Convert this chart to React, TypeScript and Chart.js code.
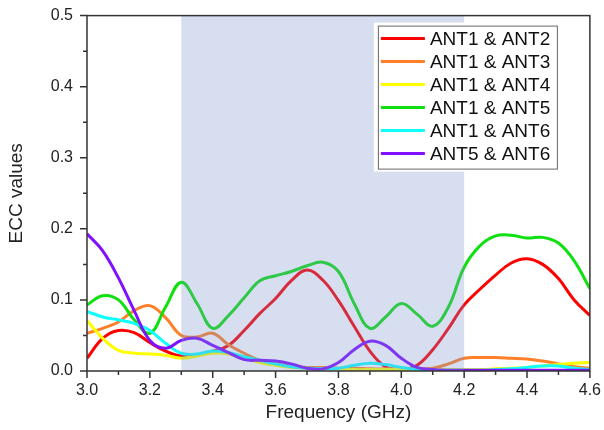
import React, { useEffect, useRef } from "react";
import { Chart, registerables } from "chart.js";

Chart.register(...registerables);

const freq = [3.0, 3.05, 3.1, 3.15, 3.2, 3.25, 3.3, 3.35, 3.4, 3.45, 3.5, 3.55, 3.6, 3.65, 3.7, 3.75, 3.8, 3.85, 3.9, 3.95, 4.0, 4.05, 4.1, 4.15, 4.2, 4.25, 4.3, 4.35, 4.4, 4.45, 4.5, 4.55, 4.6];

const ant12 = [0.018, 0.046, 0.057, 0.054, 0.040, 0.028, 0.021, 0.023, 0.028, 0.036, 0.057, 0.081, 0.102, 0.127, 0.142, 0.128, 0.099, 0.063, 0.028, 0.006, 0.002, 0.008, 0.030, 0.060, 0.093, 0.115, 0.135, 0.152, 0.158, 0.150, 0.130, 0.100, 0.078];
const ant13 = [0.053, 0.060, 0.069, 0.085, 0.092, 0.075, 0.050, 0.048, 0.053, 0.037, 0.025, 0.015, 0.010, 0.007, 0.005, 0.005, 0.004, 0.004, 0.003, 0.003, 0.003, 0.003, 0.004, 0.010, 0.018, 0.019, 0.019, 0.018, 0.017, 0.014, 0.010, 0.006, 0.004];
const ant14 = [0.071, 0.046, 0.029, 0.025, 0.024, 0.022, 0.018, 0.021, 0.025, 0.024, 0.018, 0.012, 0.008, 0.005, 0.004, 0.003, 0.003, 0.002, 0.002, 0.002, 0.002, 0.002, 0.002, 0.002, 0.002, 0.002, 0.003, 0.004, 0.005, 0.007, 0.009, 0.011, 0.012];
const ant15 = [0.093, 0.106, 0.100, 0.072, 0.053, 0.090, 0.125, 0.095, 0.060, 0.078, 0.103, 0.127, 0.134, 0.140, 0.148, 0.153, 0.140, 0.095, 0.060, 0.076, 0.095, 0.080, 0.063, 0.090, 0.146, 0.176, 0.190, 0.191, 0.187, 0.188, 0.180, 0.155, 0.116];
const ant16 = [0.084, 0.076, 0.072, 0.067, 0.057, 0.039, 0.025, 0.024, 0.028, 0.026, 0.020, 0.015, 0.010, 0.006, 0.004, 0.003, 0.004, 0.008, 0.011, 0.009, 0.005, 0.002, 0.001, 0.001, 0.001, 0.001, 0.002, 0.003, 0.005, 0.007, 0.007, 0.004, 0.002];
const ant56 = [0.193, 0.169, 0.131, 0.085, 0.043, 0.032, 0.043, 0.046, 0.036, 0.026, 0.016, 0.015, 0.014, 0.010, 0.004, 0.003, 0.012, 0.030, 0.042, 0.036, 0.018, 0.005, 0.002, 0.001, 0.001, 0.001, 0.001, 0.001, 0.001, 0.001, 0.001, 0.001, 0.001];

const seriesLabels = ["ANT1 & ANT2", "ANT1 & ANT3", "ANT1 & ANT4", "ANT1 & ANT5", "ANT1 & ANT6", "ANT5 & ANT6"];
const seriesData = [ant12, ant13, ant14, ant15, ant16, ant56];
const seriesColors = ["#ff0000", "#ff8028", "#ffff00", "#10e010", "#10ffff", "#8010ff"];

const bandStart = 3.3;
const bandEnd = 4.2;
const xTicksMajor = [3.0, 3.2, 3.4, 3.6, 3.8, 4.0, 4.2, 4.4, 4.6];
const yTicksMajor = [0.0, 0.1, 0.2, 0.3, 0.4, 0.5];

const FONT = "'Liberation Sans', Arial, sans-serif";
const TEXT = "#222";

const bandPlugin = {
  id: "band",
  afterDatasetsDraw(chart: any) {
    const { ctx, chartArea, scales } = chart;
    const x1 = scales.x.getPixelForValue(bandStart);
    const x2 = scales.x.getPixelForValue(bandEnd);
    ctx.save();
    ctx.fillStyle = "rgba(118,145,205,0.3)";
    ctx.fillRect(x1, chartArea.top, x2 - x1, chartArea.bottom - chartArea.top);
    ctx.restore();
  },
};

const framePlugin = {
  id: "frame",
  afterDraw(chart: any) {
    const { ctx, chartArea, scales } = chart;
    const { left, right, top, bottom } = chartArea;
    ctx.save();
    ctx.strokeStyle = "#333";
    ctx.lineWidth = 1.5;
    ctx.strokeRect(left, top, right - left, bottom - top);
    ctx.beginPath();
    for (let i = 0; i < xTicksMajor.length; i++) {
      const v = xTicksMajor[i];
      const px = scales.x.getPixelForValue(v);
      ctx.moveTo(px, bottom);
      ctx.lineTo(px, bottom + 7);
      if (i < xTicksMajor.length - 1) {
        const m = scales.x.getPixelForValue((v + xTicksMajor[i + 1]) / 2);
        ctx.moveTo(m, bottom);
        ctx.lineTo(m, bottom + 4);
      }
    }
    for (let i = 0; i < yTicksMajor.length; i++) {
      const v = yTicksMajor[i];
      const py = scales.y.getPixelForValue(v);
      ctx.moveTo(left, py);
      ctx.lineTo(left - 7, py);
      if (i < yTicksMajor.length - 1) {
        const m = scales.y.getPixelForValue((v + yTicksMajor[i + 1]) / 2);
        ctx.moveTo(left, m);
        ctx.lineTo(left - 4, m);
      }
    }
    ctx.stroke();
    ctx.restore();
  },
};

const legendPlugin = {
  id: "customLegend",
  afterDraw(chart: any) {
    const { ctx, chartArea } = chart;
    const boxRight = chartArea.right - 33;
    const boxTop = chartArea.top + 10;
    const boxW = 179;
    const boxH = 143;
    const boxLeft = boxRight - boxW;
    ctx.save();
    ctx.fillStyle = "#ffffff";
    ctx.fillRect(boxLeft - 4, boxTop - 3, boxW + 6, boxH + 6);
    ctx.strokeStyle = "#666";
    ctx.lineWidth = 1;
    ctx.strokeRect(boxLeft + 0.5, boxTop + 0.5, boxW, boxH);
    ctx.font = `19px ${FONT}`;
    ctx.textBaseline = "middle";
    ctx.textAlign = "left";
    const ds = chart.data.datasets;
    for (let i = 0; i < ds.length; i++) {
      const y = boxTop + 13 + i * 23;
      ctx.strokeStyle = ds[i].borderColor;
      ctx.lineWidth = 3;
      ctx.beginPath();
      ctx.moveTo(boxLeft + 3, y);
      ctx.lineTo(boxLeft + 47, y);
      ctx.stroke();
      ctx.fillStyle = "#111";
      ctx.fillText(ds[i].label, boxLeft + 52, y + 1);
    }
    ctx.restore();
  },
};

export default function App() {
  const ref = useRef<HTMLCanvasElement>(null);
  useEffect(() => {
    document.body.style.margin = "0";
    const canvas = ref.current!;
    const chart = new Chart(canvas, {
      type: "line",
      data: {
        datasets: seriesLabels.map((label, i) => ({
          label,
          data: freq.map((f, j) => ({ x: f, y: seriesData[i][j] })),
          borderColor: seriesColors[i],
          backgroundColor: seriesColors[i],
          borderWidth: 3,
          pointRadius: 0,
          tension: 0.4,
          fill: false,
          order: 6 - i,
        })),
      },
      options: {
        animation: false,
        responsive: false,
        maintainAspectRatio: false,
        layout: { padding: { top: 14, right: 12, left: 0, bottom: 0 } },
        plugins: { legend: { display: false }, tooltip: { enabled: false } },
        scales: {
          x: {
            type: "linear",
            min: 3.0,
            max: 4.6,
            afterFit(scale: any) {
              scale.height = 59;
            },
            afterBuildTicks(scale: any) {
              scale.ticks = xTicksMajor.map((v) => ({ value: v }));
            },
            ticks: {
              color: TEXT,
              font: { family: FONT, size: 16 },
              padding: 3,
              maxRotation: 0,
              autoSkip: false,
              callback: (v: any) => Number(v).toFixed(1),
            },
            grid: { drawOnChartArea: false, color: "transparent", tickLength: 7 },
            border: { display: false },
            title: {
              display: true,
              text: "Frequency (GHz)",
              color: TEXT,
              font: { family: FONT, size: 19 },
              padding: { top: 0, bottom: 6 },
            },
          },
          y: {
            type: "linear",
            min: 0,
            max: 0.5,
            afterFit(scale: any) {
              scale.width = 87;
            },
            afterBuildTicks(scale: any) {
              scale.ticks = yTicksMajor.map((v) => ({ value: v }));
            },
            ticks: {
              color: TEXT,
              font: { family: FONT, size: 16 },
              padding: 6,
              autoSkip: false,
              callback: (v: any) => Number(v).toFixed(1),
            },
            grid: { drawOnChartArea: false, color: "transparent", tickLength: 8 },
            border: { display: false },
            title: {
              display: true,
              text: "ECC values",
              color: TEXT,
              font: { family: FONT, size: 19 },
              padding: { top: 5, bottom: 0 },
            },
          },
        },
      },
      plugins: [bandPlugin, framePlugin, legendPlugin],
    });
    return () => chart.destroy();
  }, []);
  return (
    <div style={{ width: 604, height: 430 }}>
      <canvas ref={ref} width={604} height={430} style={{ display: "block" }} />
    </div>
  );
}
